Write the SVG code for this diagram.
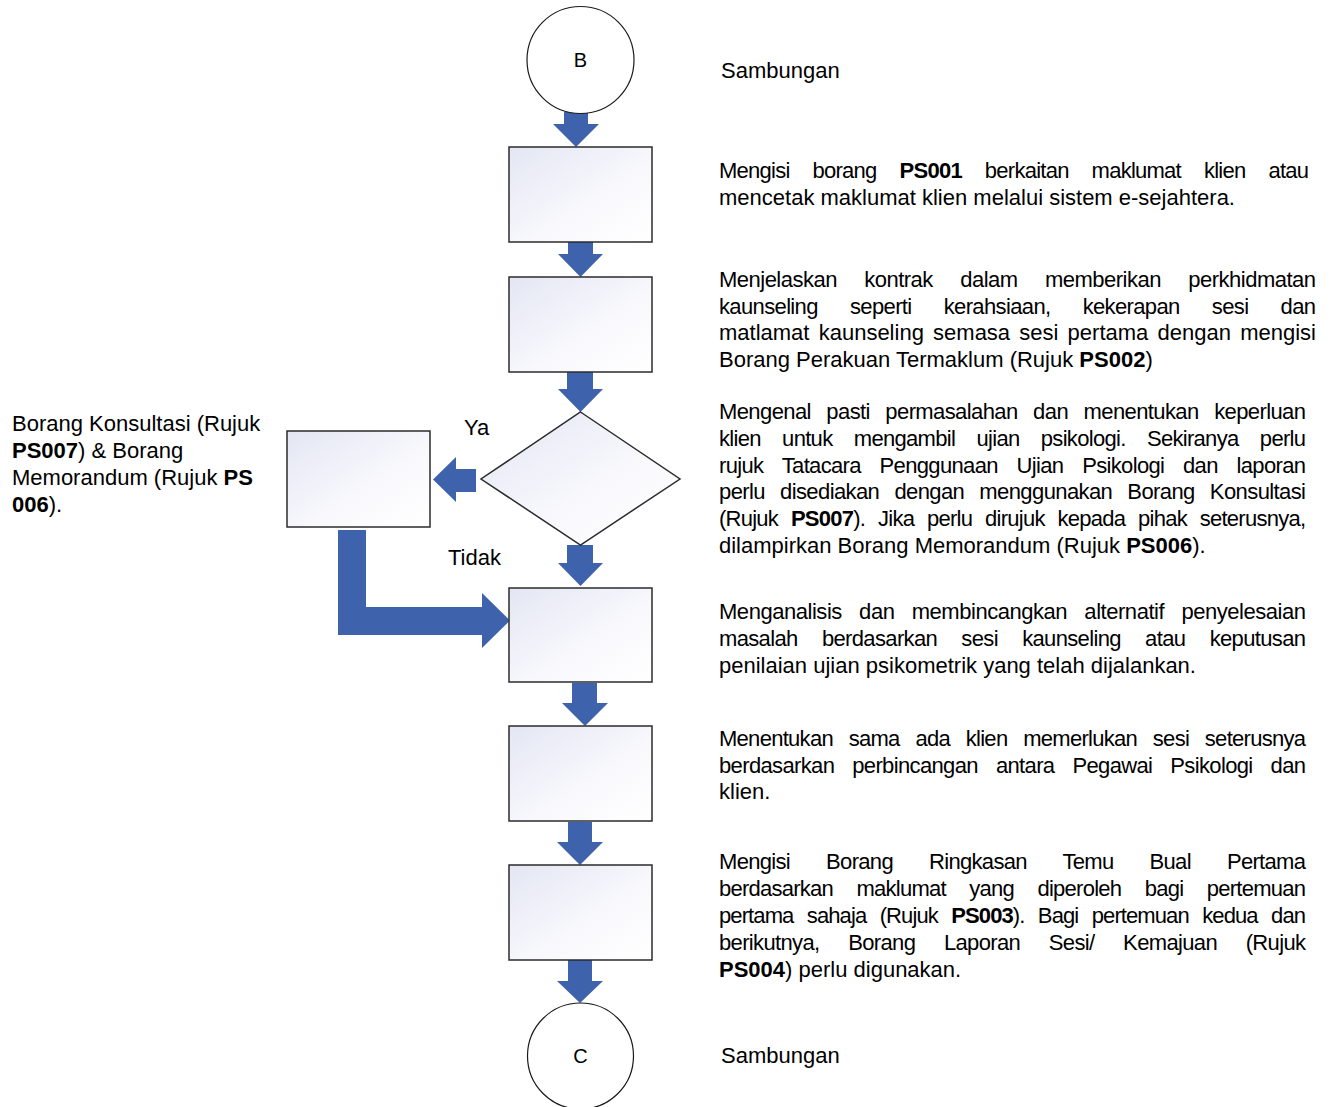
<svg xmlns="http://www.w3.org/2000/svg" width="1331" height="1107" viewBox="0 0 1331 1107">
<defs>
<linearGradient id="boxfill" x1="0" y1="0" x2="1" y2="1">
<stop offset="0" stop-color="#e3e6f3"/>
<stop offset="0.6" stop-color="#f9f9fd"/>
<stop offset="1" stop-color="#ffffff"/>
</linearGradient>
<style>
.t{font-family:"Liberation Sans",Arial,sans-serif;font-size:22px;fill:#000}
.b{font-weight:bold}
.box{fill:url(#boxfill);stroke:#2b2b2b;stroke-width:1.5}
.circ{fill:#fff;stroke:#1a1a1a;stroke-width:1.2}
.arr{fill:#3f62ad;stroke:none}
.lbl{font-family:"Liberation Sans",Arial,sans-serif;font-size:20px;fill:#000;text-anchor:middle}
</style>
</defs>
<rect width="1331" height="1107" fill="#fff"/>

<g id="connectors">
<polygon class="arr" points="564,112 588,112 588,124 599,124 576,147 553,124 564,124"/>
<polygon class="arr" points="568,242 593,242 593,254 603,254 580.5,277 558,254 568,254"/>
<polygon class="arr" points="567,372 593,372 593,389 603,389 580.5,412 558,389 567,389"/>
<polygon class="arr" points="567,545 593,545 593,563 603,563 580.5,586 558,563 567,563"/>
<polygon class="arr" points="572,683 597,683 597,703 608,703 585,726 562,703 572,703"/>
<polygon class="arr" points="568,822 592,822 592,842 603,842 580,865 557,842 568,842"/>
<polygon class="arr" points="568,960 592,960 592,981 603,981 580,1003 557,981 568,981"/>
<polygon class="arr" points="476,469 476,492 456,492 456,502 433,479.5 456,457 456,469"/>
<polygon class="arr" points="338,530 366,530 366,607 482,607 482,593 510,620.5 482,648 482,635 338,635"/>
</g>

<g id="nodeB">
<circle class="circ" cx="580.5" cy="60" r="53.5"/>
<text class="lbl" x="580.5" y="67">B</text>
</g>
<g id="box1"><rect class="box" x="509" y="147" width="143" height="95"/></g>
<g id="box2"><rect class="box" x="509" y="277" width="143" height="95"/></g>
<g id="decision"><polygon class="box" points="580.5,412 680,479 580.5,545 481,479"/></g>
<g id="boxLeft"><rect class="box" x="287" y="431" width="143" height="96"/></g>
<g id="box3"><rect class="box" x="509" y="588" width="143" height="94"/></g>
<g id="box4"><rect class="box" x="509" y="726" width="143" height="95"/></g>
<g id="box5"><rect class="box" x="509" y="865" width="143" height="95"/></g>
<g id="nodeC">
<circle class="circ" cx="580.5" cy="1056" r="53"/>
<text class="lbl" x="580.5" y="1063">C</text>
</g>

<g id="labels">
<text class="t" x="464" y="435">Ya</text>
<text class="t" x="448" y="565">Tidak</text>
</g>

<g id="text-left">
<text class="t" x="12" y="431">Borang Konsultasi (Rujuk</text>
<text class="t" x="12" y="458"><tspan class="b">PS007</tspan>) &amp; Borang</text>
<text class="t" x="12" y="485">Memorandum (Rujuk <tspan class="b">PS</tspan></text>
<text class="t" x="12" y="512"><tspan class="b">006</tspan>).</text>
</g>

<g id="text-right">
<text class="t" x="721" y="78">Sambungan</text>

<text class="t" x="719" y="178" word-spacing="17.6" textLength="590" lengthAdjust="spacing">Mengisi borang <tspan class="b">PS001</tspan> berkaitan maklumat klien atau</text>
<text class="t" x="719" y="205">mencetak maklumat klien melalui sistem e-sejahtera.</text>

<text class="t" x="719" y="287" word-spacing="21.8" textLength="597" lengthAdjust="spacing">Menjelaskan kontrak dalam memberikan perkhidmatan</text>
<text class="t" x="719" y="314" word-spacing="26.7" textLength="597" lengthAdjust="spacing">kaunseling seperti kerahsiaan, kekerapan sesi dan</text>
<text class="t" x="719" y="340" word-spacing="3.1" textLength="597" lengthAdjust="spacing">matlamat kaunseling semasa sesi pertama dengan mengisi</text>
<text class="t" x="719" y="367">Borang Perakuan Termaklum (Rujuk <tspan class="b">PS002</tspan>)</text>

<text class="t" x="719" y="419" word-spacing="10" textLength="587" lengthAdjust="spacing">Mengenal pasti permasalahan dan menentukan keperluan</text>
<text class="t" x="719" y="446" word-spacing="15.9" textLength="587" lengthAdjust="spacing">klien untuk mengambil ujian psikologi. Sekiranya perlu</text>
<text class="t" x="719" y="473" word-spacing="13.3" textLength="587" lengthAdjust="spacing">rujuk Tatacara Penggunaan Ujian Psikologi dan laporan</text>
<text class="t" x="719" y="499" word-spacing="9.6" textLength="587" lengthAdjust="spacing">perlu disediakan dengan menggunakan Borang Konsultasi</text>
<text class="t" x="719" y="526" word-spacing="7.5" textLength="587" lengthAdjust="spacing">(Rujuk <tspan class="b">PS007</tspan>). Jika perlu dirujuk kepada pihak seterusnya,</text>
<text class="t" x="719" y="553">dilampirkan Borang Memorandum (Rujuk <tspan class="b">PS006</tspan>).</text>

<text class="t" x="719" y="619" word-spacing="11.6" textLength="587" lengthAdjust="spacing">Menganalisis dan membincangkan alternatif penyelesaian</text>
<text class="t" x="719" y="646" word-spacing="18.8" textLength="587" lengthAdjust="spacing">masalah berdasarkan sesi kaunseling atau keputusan</text>
<text class="t" x="719" y="673">penilaian ujian psikometrik yang telah dijalankan.</text>

<text class="t" x="719" y="746" word-spacing="10.4" textLength="587" lengthAdjust="spacing">Menentukan sama ada klien memerlukan sesi seterusnya</text>
<text class="t" x="719" y="773" word-spacing="12.5" textLength="587" lengthAdjust="spacing">berdasarkan perbincangan antara Pegawai Psikologi dan</text>
<text class="t" x="719" y="799">klien.</text>

<text class="t" x="719" y="869" word-spacing="30.6" textLength="587" lengthAdjust="spacing">Mengisi Borang Ringkasan Temu Bual Pertama</text>
<text class="t" x="719" y="896" word-spacing="18.1" textLength="587" lengthAdjust="spacing">berdasarkan maklumat yang diperoleh bagi pertemuan</text>
<text class="t" x="719" y="923" word-spacing="8.2" textLength="587" lengthAdjust="spacing">pertama sahaja (Rujuk <tspan class="b">PS003</tspan>). Bagi pertemuan kedua dan</text>
<text class="t" x="719" y="950" word-spacing="23.2" textLength="587" lengthAdjust="spacing">berikutnya, Borang Laporan Sesi/ Kemajuan (Rujuk</text>
<text class="t" x="719" y="977"><tspan class="b">PS004</tspan>) perlu digunakan.</text>

<text class="t" x="721" y="1063">Sambungan</text>
</g>
</svg>
